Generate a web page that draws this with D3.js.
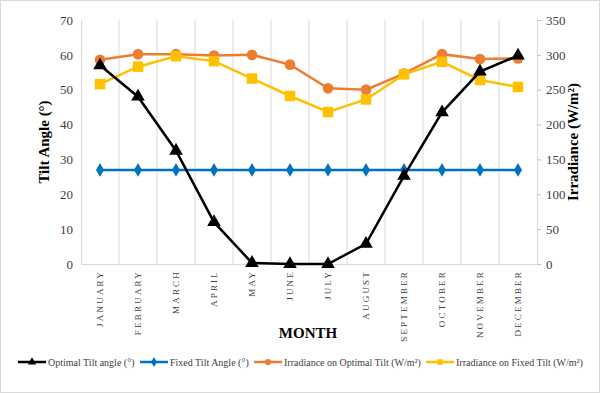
<!DOCTYPE html>
<html>
<head>
<meta charset="utf-8">
<script src="https://cdn.jsdelivr.net/npm/d3@7"></script>
<style>
  body { margin: 0; background: #fff; }
  svg, svg text { font-family: "Liberation Serif", "Times New Roman", serif !important; }
</style>
</head>
<body>
<svg id="chart" width="600" height="393"></svg>
<script>
const months = ["JANUARY", "FEBRUARY", "MARCH", "APRIL", "MAY", "JUNE", "JULY",
  "AUGUST", "SEPTEMBER", "OCTOBER", "NOVEMBER", "DECEMBER"];
const optimalTilt = [57, 48, 32.5, 12, 0.3, 0, 0, 5.8, 25.3, 43.5, 55.2, 59.8];
const fixedTilt = [27, 27, 27, 27, 27, 27, 27, 27, 27, 27, 27, 27];
const irrOptimal = [293, 301, 301, 299, 300, 286, 252, 250, 273, 301, 294, 295];
const irrFixed = [258, 283, 298, 291, 266, 241, 218, 236, 272, 290, 264, 254];
const leftTicks = [0, 10, 20, 30, 40, 50, 60, 70];
const rightTicks = [0, 50, 100, 150, 200, 250, 300, 350];

const svg = d3.select("#chart");
const W = 600, H = 393;
const plot = { left: 81, right: 537, top: 20, bottom: 264 };
const serif = "'Liberation Serif', 'Times New Roman', serif";

// outer frame
svg.append("rect")
  .attr("x", 0.5).attr("y", 0.5)
  .attr("width", W - 1).attr("height", H - 1)
  .attr("fill", "#fff").attr("stroke", "#d9d9d9");

const x = d3.scaleBand().domain(months).range([plot.left, plot.right]);
const yL = d3.scaleLinear().domain([0, 70]).range([plot.bottom, plot.top]);
const yR = d3.scaleLinear().domain([0, 350]).range([plot.bottom, plot.top]);

// vertical gridlines at band boundaries
svg.append("g")
  .selectAll("line")
  .data(months.slice(1))
  .join("line")
  .attr("x1", d => x(d)).attr("x2", d => x(d))
  .attr("y1", plot.top).attr("y2", plot.bottom)
  .attr("stroke", "#d9d9d9").attr("stroke-width", 1);

// left axis
const leftAxis = svg.append("g")
  .attr("transform", `translate(${plot.left},0)`)
  .call(d3.axisLeft(yL).tickValues(leftTicks).tickSize(0).tickPadding(8));
leftAxis.attr("font-family", null);
leftAxis.select(".domain").attr("stroke", "#d9d9d9");
leftAxis.selectAll("text").attr("font-size", 13).attr("fill", "#404040")
  .style("font-family", serif);

// right axis
const rightAxis = svg.append("g")
  .attr("transform", `translate(${plot.right},0)`)
  .call(d3.axisRight(yR).tickValues(rightTicks).tickSize(4).tickPadding(5));
rightAxis.attr("font-family", null);
rightAxis.select(".domain").attr("stroke", "#d9d9d9");
rightAxis.selectAll(".tick line").attr("stroke", "#bfbfbf");
rightAxis.selectAll("text").attr("font-size", 13).attr("fill", "#404040")
  .style("font-family", serif);

// bottom axis
const bottomAxis = svg.append("g")
  .attr("transform", `translate(0,${plot.bottom})`)
  .call(d3.axisBottom(x).tickSize(0));
bottomAxis.attr("font-family", null);
bottomAxis.select(".domain").attr("stroke", "#d9d9d9");
bottomAxis.selectAll("text")
  .attr("font-size", 9).attr("fill", "#404040")
  .style("font-family", serif)
  .attr("letter-spacing", "2.2px")
  .attr("text-anchor", "end")
  .attr("dy", "0.35em")
  .attr("transform", "translate(0,6) rotate(-90)")
  .attr("x", 0).attr("y", 0);

// axis titles
svg.append("text")
  .attr("transform", "translate(49,142) rotate(-90)")
  .attr("text-anchor", "middle")
  .attr("font-size", 15).attr("font-weight", "bold")
  .style("font-family", serif)
  .text("Tilt Angle (°)");
svg.append("text")
  .attr("transform", "translate(578,142) rotate(-90)")
  .attr("text-anchor", "middle")
  .attr("font-size", 15).attr("font-weight", "bold")
  .style("font-family", serif)
  .text("Irradiance (W/m²)");
svg.append("text")
  .attr("x", 308).attr("y", 338)
  .attr("text-anchor", "middle")
  .attr("font-size", 15).attr("font-weight", "bold")
  .style("font-family", serif)
  .text("MONTH");

const cx = d => x(d) + x.bandwidth() / 2;

const series = [
  { name: "Irradiance on Optimal Tilt (W/m²)", values: irrOptimal, y: yR, color: "#ED7D31", symbol: d3.symbolCircle, size: 90 },
  { name: "Irradiance on Fixed Tilt (W/m²)", values: irrFixed, y: yR, color: "#FFC000", symbol: d3.symbolSquare, size: 110 },
  { name: "Fixed Tilt Angle (°)", values: fixedTilt, y: yL, color: "#0070C0", symbol: d3.symbolDiamond, size: 55 },
  { name: "Optimal Tilt angle (°)", values: optimalTilt, y: yL, color: "#000000", symbol: d3.symbolTriangle, size: 80 }
];

series.forEach(s => {
  const pts = months.map((m, i) => [cx(m), s.y(s.values[i])]);
  svg.append("path")
    .attr("d", d3.line()(pts))
    .attr("fill", "none")
    .attr("stroke", s.color)
    .attr("stroke-width", 2.5);
  svg.append("g")
    .selectAll("path")
    .data(pts)
    .join("path")
    .attr("transform", d => `translate(${d[0]},${d[1]})`)
    .attr("d", d3.symbol().type(s.symbol).size(s.size))
    .attr("fill", s.color);
});

// legend
const legendItems = [
  { name: "Optimal Tilt angle (°)", color: "#000000", symbol: d3.symbolTriangle, x: 18 },
  { name: "Fixed Tilt Angle (°)", color: "#0070C0", symbol: d3.symbolDiamond, x: 140 },
  { name: "Irradiance on Optimal Tilt (W/m²)", color: "#ED7D31", symbol: d3.symbolCircle, x: 254 },
  { name: "Irradiance on Fixed Tilt (W/m²)", color: "#FFC000", symbol: d3.symbolSquare, x: 426 }
];
const ly = 362;
const lg = svg.append("g");
legendItems.forEach(d => {
  lg.append("line")
    .attr("x1", d.x).attr("x2", d.x + 28)
    .attr("y1", ly).attr("y2", ly)
    .attr("stroke", d.color).attr("stroke-width", 2.5);
  lg.append("path")
    .attr("transform", `translate(${d.x + 14},${ly})`)
    .attr("d", d3.symbol().type(d.symbol).size(30))
    .attr("fill", d.color);
  lg.append("text")
    .attr("x", d.x + 30).attr("y", ly)
    .attr("dy", "0.35em")
    .attr("font-size", 10).attr("fill", "#404040")
    .style("font-family", serif)
    .text(d.name);
});
</script>
</body>
</html>
